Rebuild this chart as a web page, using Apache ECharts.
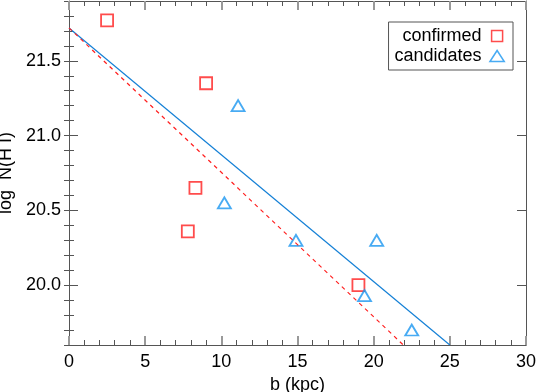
<!DOCTYPE html>
<html>
<head>
<meta charset="utf-8">
<script src="https://cdn.jsdelivr.net/npm/echarts@6/dist/echarts.min.js"></script>
<style>
  html, body { margin: 0; padding: 0; background: #fff; }
  #chart { width: 536px; height: 392px; }
</style>
</head>
<body>
<div id="chart"></div>
<script>
// confirmed absorbers (red squares)
var confirmedB = [2.5, 9.0, 8.3, 7.8, 19.0];
var confirmedN = [21.77, 21.35, 20.65, 20.36, 20.0];
// candidates (blue triangles)
var candidateB = [11.1, 10.2, 14.9, 20.2, 19.4, 22.5];
var candidateN = [21.2, 20.55, 20.3, 20.3, 19.93, 19.7];
// fitted lines (end points)
var fitAllB = [0, 25];
var fitAllN = [21.72, 19.6];
var fitConfB = [0, 21.95];
var fitConfN = [21.72, 19.6];
// tick labels
var yMajor = [20.0, 20.5, 21.0, 21.5];

var FONT = 'Liberation Sans, Arial, Helvetica, sans-serif';
var RED = '#ff1f1f';
var BLUE = '#1a96f0';
var LINEBLUE = '#1580d6';
var AXIS = '#555';

function pairs(xs, ys) {
  return xs.map(function (x, i) { return [x, ys[i]]; });
}

var chart = echarts.init(document.getElementById('chart'));

function xAx(pos, labels) {
  return {
    type: 'value', position: pos, min: 0, max: 30, interval: 5,
    name: labels ? 'b (kpc)' : '', nameLocation: 'middle', nameGap: 27,
    nameTextStyle: { fontFamily: FONT, fontSize: 18, color: '#000' },
    axisLine: { show: true, onZero: false, lineStyle: { color: AXIS, width: 1 } },
    axisTick: { show: true, inside: true, length: 9, lineStyle: { color: '#999', width: 2 } },
    minorTick: { show: true, splitNumber: 5, length: 5, lineStyle: { color: AXIS, width: 1 } },
    axisLabel: { show: labels, margin: 8, fontFamily: FONT, fontSize: 18, color: '#000' },
    splitLine: { show: false }
  };
}

function yMajorAx(pos, labels) {
  return {
    type: 'value', position: pos, min: 19.6, max: 21.9,
    name: labels ? 'log  N(H I)' : '', nameLocation: 'middle', nameGap: 50, nameRotate: 90,
    nameTextStyle: { fontFamily: FONT, fontSize: 18, color: '#000' },
    axisLine: { show: true, onZero: false, lineStyle: { color: AXIS, width: 1 } },
    axisTick: { show: true, inside: true, length: 9, customValues: yMajor, lineStyle: { color: AXIS, width: 1 } },
    axisLabel: {
      show: labels, margin: 8, customValues: yMajor, fontFamily: FONT, fontSize: 18, color: '#000',
      formatter: function (v) { return v.toFixed(1); }
    },
    splitLine: { show: false }
  };
}

function yMinorAx(pos) {
  return {
    type: 'value', position: pos, min: 19.6, max: 21.9, interval: 0.1,
    axisLine: { show: false },
    axisTick: { show: true, inside: true, length: 5, lineStyle: { color: AXIS, width: 1 } },
    axisLabel: { show: false },
    splitLine: { show: false }
  };
}

var option = {
  backgroundColor: '#fff',
  animation: false,
  grid: { left: 69, right: 10, top: 1, bottom: 47, containLabel: false, outerBoundsMode: 'none' },
  xAxis: [xAx('bottom', true), xAx('top', false)],
  yAxis: [yMajorAx('left', true), yMajorAx('right', false), yMinorAx('left'), yMinorAx('right')],
  legend: {
    orient: 'vertical', right: 23, top: 22, align: 'right',
    itemWidth: 21, itemHeight: 11, itemGap: 2,
    padding: [5, 8, 5, 6],
    borderColor: AXIS, borderWidth: 1,
    textStyle: { fontFamily: FONT, fontSize: 18, color: '#000' },
    data: [
      { name: 'confirmed', icon: 'path://M0,0L10,0L10,10L0,10Z',
        itemStyle: { color: 'rgba(0,0,0,0)', borderColor: RED, borderWidth: 1.5 } },
      { name: 'candidates', icon: 'path://M6.5,0L13,10L0,10Z',
        itemStyle: { color: 'rgba(0,0,0,0)', borderColor: BLUE, borderWidth: 1.5 } }
    ]
  },
  series: [
    {
      name: 'fit all', type: 'line', data: pairs(fitAllB, fitAllN), symbol: 'none',
      lineStyle: { color: LINEBLUE, width: 1.2 }, silent: true
    },
    {
      name: 'fit confirmed', type: 'line', data: pairs(fitConfB, fitConfN), symbol: 'none',
      lineStyle: { color: RED, width: 1.2, type: [4, 4] }, silent: true
    },
    {
      name: 'confirmed', type: 'scatter', data: pairs(confirmedB, confirmedN),
      symbol: 'rect', symbolSize: 12,
      itemStyle: { color: 'rgba(0,0,0,0)', borderColor: RED, borderWidth: 1.8 }
    },
    {
      name: 'candidates', type: 'scatter', data: pairs(candidateB, candidateN),
      symbol: 'triangle', symbolSize: [13, 11],
      itemStyle: { color: 'rgba(0,0,0,0)', borderColor: BLUE, borderWidth: 1.8 }
    }
  ]
};

chart.setOption(option);
</script>
</body>
</html>
